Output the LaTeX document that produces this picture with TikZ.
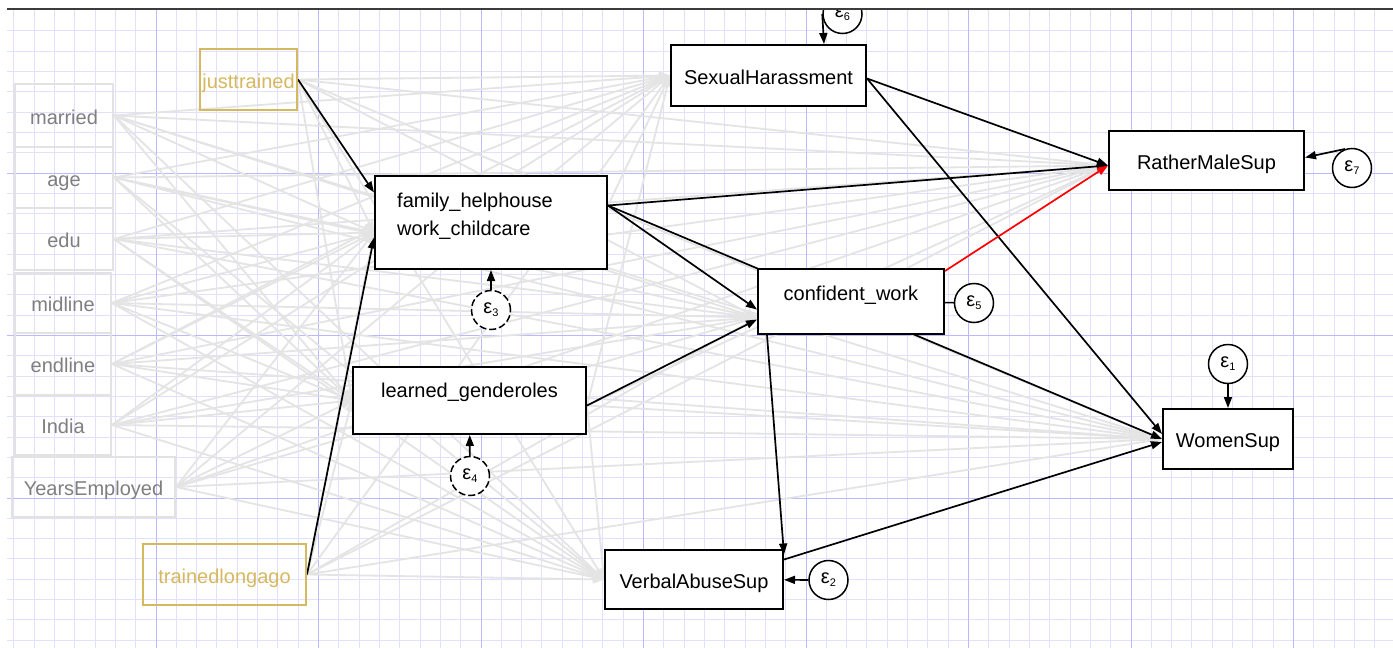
\documentclass[tikz,border=0pt]{standalone}
\usepackage{fontspec}
\setmainfont{Liberation Sans}
\usepackage{xcolor}
\usepackage{tikz}
\usetikzlibrary{calc,arrows.meta,positioning}
\definecolor{gridlo}{HTML}{E1E1FF}
\definecolor{gridhi}{HTML}{B9B9FF}
\definecolor{goldx}{HTML}{D6B85F}
\definecolor{pathx}{HTML}{E4E4E4}
\definecolor{exotext}{HTML}{7F7F7F}
\definecolor{exoline}{HTML}{E2E2E2}
\definecolor{topline}{HTML}{3C3C3C}
\pgfdeclarelayer{bg}
\pgfdeclarelayer{paths}
\pgfsetlayers{bg,paths,main}
\newcommand{\errlab}[1]{{\fontsize{20}{20}\selectfont ε}\raisebox{-3pt}{\fontsize{11}{11}\selectfont #1}}
\tikzset{
  sig/.style={-{Triangle[length=11pt,width=8pt]},line width=1.7pt,black},
  ns/.style={-{Triangle[length=11pt,width=8pt]},line width=1.8pt,pathx},
  vtxt/.style={font=\fontsize{20}{28}\selectfont,inner sep=0pt,text height=17pt,text depth=0pt},
  obs/.style={vtxt,draw=black,line width=2pt,fill=white},
  exo/.style={vtxt,draw=exoline,line width=2pt,text=exotext},
  trn/.style={vtxt,draw=goldx,line width=2pt,text=goldx},
  err/.style={circle,draw=black,line width=1.5pt,fill=white,minimum size=39pt,inner sep=0pt},
  errd/.style={err,dash pattern=on 7pt off 3pt}
}

\begin{document}
\begin{tikzpicture}[x=1pt,y=-1pt]
\useasboundingbox (0,0) rectangle (1393,648);
\begin{pgfonlayer}{bg}
\fill[white] (0,0) rectangle (1393,648);
\foreach \i in {1,...,68}{\draw[gridlo,line width=1pt] ({-6.5+20.3125*\i},9) -- ({-6.5+20.3125*\i},648);}
\foreach \j in {1,...,31}{\draw[gridlo,line width=1pt] (7,{10.5+20.3125*\j}) -- (1393,{10.5+20.3125*\j});}
\foreach \i in {1,...,8}{\draw[gridhi,line width=1pt] ({-6.5+162.5*\i},9) -- ({-6.5+162.5*\i},648);}
\foreach \j in {1,...,3}{\draw[gridhi,line width=1pt] (7,{10.5+162.5*\j}) -- (1393,{10.5+162.5*\j});}
\end{pgfonlayer}

\node[exo,minimum width=98pt,minimum height=63pt] (married) at (64,115.5) {married};
\node[exo,minimum width=98pt,minimum height=61pt] (age) at (64,177.5) {age};
\node[exo,minimum width=98pt,minimum height=62pt] (edu) at (64,239) {edu};
\node[exo,minimum width=96pt,minimum height=60pt] (midline) at (63,303) {midline};
\node[exo,minimum width=96pt,minimum height=62pt] (endline) at (63,364) {endline};
\node[exo,minimum width=96pt,minimum height=60pt] (india) at (63,425) {India};
\node[exo,minimum width=163pt,minimum height=60pt] (years) at (93.5,487) {YearsEmployed};
\node[trn,minimum width=97pt,minimum height=61pt] (just) at (248.5,79.5) {justtrained};
\node[trn,minimum width=163pt,minimum height=61pt] (longago) at (224.5,574.5) {trainedlongago};

\node[obs,minimum width=232pt,minimum height=93pt] (family) at (491,222.5) {};
\node[font=\fontsize{20}{28}\selectfont,inner sep=0pt,align=left,anchor=north west] (famtxt) at (397,193) {family\_helphouse\\work\_childcare};
\node[obs,minimum width=233pt,minimum height=67pt,text depth=23pt] (learned) at (469.5,400.5) {learned\_genderoles};
\node[obs,minimum width=195pt,minimum height=61pt] (sh) at (768.5,75.5) {SexualHarassment};
\node[obs,minimum width=186pt,minimum height=65pt,text depth=19pt] (conf) at (851,301.5) {confident\_work};
\node[obs,minimum width=195pt,minimum height=59pt] (rms) at (1206.5,160.5) {RatherMaleSup};
\node[obs,minimum width=130pt,minimum height=60pt] (women) at (1228,439) {WomenSup};
\node[obs,minimum width=178pt,minimum height=59pt] (verbal) at (694,579.5) {VerbalAbuseSup};

\node[err] (e1) at (1228,364) {\errlab{1}};
\node[err] (e2) at (828.5,580) {\errlab{2}};
\node[errd] (e3) at (491,310) {\errlab{3}};
\node[errd] (e4) at (470,476) {\errlab{4}};
\node[err] (e5) at (974,303) {\errlab{5}};
\node[err] (e6) at (842.5,14) {\errlab{6}};
\node[err] (e7) at (1352,168) {\errlab{7}};

\coordinate (famIn) at ([yshift=-10pt]family.west);
\coordinate (famOut) at ([yshift=17pt]family.east);
\coordinate (learnOut) at ([yshift=-5pt]learned.east);
\coordinate (shOut) at ([yshift=-3pt]sh.east);
\coordinate (confIn) at ([yshift=-16pt]conf.west);
\coordinate (rmsIn) at ([yshift=-5pt]rms.west);

\begin{pgfonlayer}{paths}
\foreach \s in {married,age,edu,midline,endline,india,years,just,longago}{
  \foreach \t in {famIn,learned.west,sh.west,confIn,verbal.west,women.west,rmsIn}{
    \draw[ns] (\s.east) -- (\t);
  }
}
\foreach \t in {sh.west,rmsIn,women.west,verbal.west}{\draw[ns] (learnOut) -- (\t);}
\draw[ns] (famOut) -- (sh.west);

\draw[sig] (just.east) -- ([yshift=30pt]family.west);
\draw[sig] (longago.east) -- ([yshift=-15pt]family.west);
\draw[sig] (famOut) -- (rmsIn);
\draw[sig] (famOut) -- ([yshift=-8pt]conf.west);
\draw[sig] (famOut) -- (women.west);
\draw[sig] (learnOut) -- ([yshift=-18pt]conf.west);
\draw[sig] (shOut) -- (rmsIn);
\draw[sig] (shOut) -- ([yshift=5pt]women.west);
\draw[sig,red] ([yshift=-3pt]conf.north east) -- (rmsIn);
\draw[sig] ([xshift=10pt]conf.south west) -- ([yshift=25pt]verbal.east);
\draw[sig] ([yshift=20pt]verbal.east) -- ([yshift=-3pt]women.west);
\end{pgfonlayer}

\draw[sig] (e1) -- (women);
\draw[sig] (e2) -- (verbal);
\draw[sig] (e3) -- (family);
\draw[sig] (e4) -- (learned);
\draw[line width=1.5pt] (e5) -- (conf);
\draw[sig] (e6.west) -- ([xshift=55.5pt]sh.north);
\draw[sig] (e7.110) -- ([yshift=3pt]rms.east);

\fill[white] (0,0) rectangle (1393,8.5);
\draw[topline,line width=1.2pt] (7,9) -- (1393,9);
\end{tikzpicture}
\end{document}
